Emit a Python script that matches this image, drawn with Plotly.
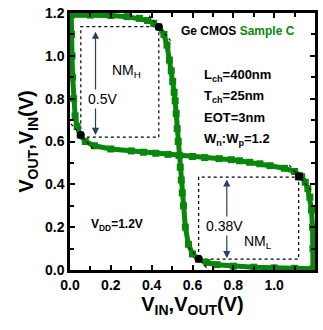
import plotly.graph_objects as go

# Transfer curve: Vin -> Vout; mirrored curve uses swapped arrays
vin = [0.0, 0.1, 0.2, 0.28, 0.34, 0.38, 0.41, 0.435, 0.46, 0.475, 0.487, 0.496, 0.503,
       0.51, 0.515, 0.52, 0.525, 0.53, 0.535, 0.54, 0.545, 0.55, 0.556, 0.565, 0.58,
       0.6, 0.63, 0.67, 0.72, 0.8, 0.9, 1.0, 1.1, 1.19]
vout = [1.19, 1.19, 1.188, 1.183, 1.175, 1.165, 1.152, 1.135, 1.10, 1.05, 0.98, 0.93, 0.88,
        0.83, 0.79, 0.73, 0.66, 0.6, 0.535, 0.48, 0.42, 0.36, 0.3, 0.2, 0.12,
        0.075, 0.05, 0.035, 0.025, 0.018, 0.013, 0.01, 0.008, 0.006]

# Noise margin markers
nm_pts_x = [0.435, 0.053, 0.63, 1.122]
nm_pts_y = [1.135, 0.63, 0.053, 0.437]
nmh_box = [0.053, 0.435, 0.62, 1.136]
nml_box = [0.63, 1.12, 0.051, 0.434]
xticks = [0.0, 0.2, 0.4, 0.6, 0.8, 1.0, 1.2]
yticks = [0.0, 0.2, 0.4, 0.6, 0.8, 1.0, 1.2]

GREEN = "#0a870a"
FONT = "Arial, Liberation Sans, sans-serif"

fig = go.Figure()
line = dict(color=GREEN, width=5)
mk = dict(symbol="square", size=7, color=GREEN)
fig.add_trace(go.Scatter(x=vin, y=vout, mode="lines+markers", line=line, marker=mk, showlegend=False))
fig.add_trace(go.Scatter(x=vout, y=vin, mode="lines+markers", line=line, marker=mk, showlegend=False))

# tangent lines slope about -1 at the 4 points
for px, py in zip(nm_pts_x, nm_pts_y):
    d = 0.06
    fig.add_trace(go.Scatter(x=[px - d * 0.8, px + d], y=[py + d * 0.8 * 1.1, py - d * 1.1],
                             mode="lines", line=dict(color="black", width=1.2, dash="dot"),
                             showlegend=False))
fig.add_trace(go.Scatter(x=nm_pts_x, y=nm_pts_y, mode="markers",
                         marker=dict(symbol=["circle", "circle", "circle", "square"], size=8, color="black"),
                         showlegend=False))

for b in (nmh_box, nml_box):
    fig.add_shape(type="rect", x0=b[0], x1=b[1], y0=b[2], y1=b[3],
                  line=dict(color="black", width=1.2, dash="dot"), layer="below")

anns = []
# arrows
anns.append(dict(x=0.125, y=0.63, ax=0.125, ay=1.12, xref="x", yref="y", axref="x", ayref="y",
                 text="", showarrow=True, arrowhead=2, arrowside="end+start", arrowwidth=1.2, arrowsize=1.2))
anns.append(dict(x=0.768, y=0.055, ax=0.768, ay=0.43, xref="x", yref="y", axref="x", ayref="y",
                 text="", showarrow=True, arrowhead=2, arrowside="end+start", arrowwidth=1.2, arrowsize=1.2))
anns.append(dict(x=0.16, y=0.80, text="0.5V", showarrow=False, bgcolor="white",
                 font=dict(size=14, color="black", family=FONT)))
anns.append(dict(x=0.275, y=0.93, text="NM<sub>H</sub>", showarrow=False,
                 font=dict(size=14, color="black", family=FONT)))
anns.append(dict(x=0.755, y=0.206, text="0.38V", showarrow=False, bgcolor="white",
                 font=dict(size=14, color="black", family=FONT)))
anns.append(dict(x=0.92, y=0.13, text="NM<sub>L</sub>", showarrow=False,
                 font=dict(size=14, color="black", family=FONT)))
anns.append(dict(x=0.535, y=1.116, xanchor="left", text="<b>Ge CMOS <span style='color:%s'>Sample C</span></b>" % GREEN,
                 showarrow=False, font=dict(size=12, color="black", family=FONT)))
for txt, yy in [("L<sub>ch</sub>=400nm", 0.91), ("T<sub>ch</sub>=25nm", 0.81),
                ("EOT=3nm", 0.71), ("W<sub>n</sub>:W<sub>p</sub>=1.2", 0.61)]:
    anns.append(dict(x=0.645, y=yy, xanchor="left", text="<b>%s</b>" % txt, showarrow=False,
                     font=dict(size=13, color="black", family=FONT)))
anns.append(dict(x=0.095, y=0.21, xanchor="left", text="<b>V<sub>DD</sub>=1.2V</b>", showarrow=False,
                 font=dict(size=12, color="black", family=FONT)))

axis_common = dict(range=[0, 1.2], showgrid=False, zeroline=False, showline=True, linecolor="black",
                   linewidth=2.5, mirror="ticks", ticks="inside", ticklen=5, tickwidth=2, tickcolor="black",
                   tickfont=dict(size=14, color="black", family=FONT, weight="bold"),
                   tickformat=".1f",
                   minor=dict(dtick=0.1, ticks="inside", ticklen=4, tickwidth=2, tickcolor="black"))

fig.update_layout(
    width=323, height=330, margin=dict(l=70, r=5, t=12, b=60),
    plot_bgcolor="white", paper_bgcolor="white",
    xaxis=dict(axis_common, tickvals=xticks,
               title=dict(text="<b>V<sub>IN</sub>,V<sub>OUT</sub>(V)</b>", standoff=6,
                          font=dict(size=20, color="black", family=FONT))),
    yaxis=dict(axis_common, tickvals=yticks,
               title=dict(text="<b>V<sub>OUT</sub>,V<sub>IN</sub>(V)</b>", standoff=6,
                          font=dict(size=20, color="black", family=FONT))),
    annotations=anns,
)
fig.write_html("out.html")
